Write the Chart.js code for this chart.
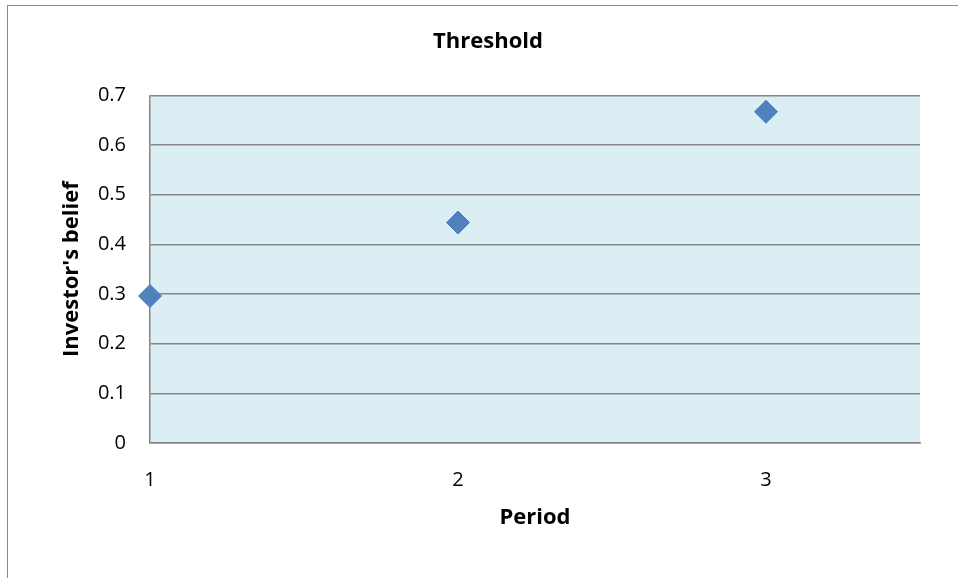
<!DOCTYPE html>
<html>
<head>
<meta charset="utf-8">
<script src="https://cdn.jsdelivr.net/npm/chart.js@4"></script>
<style>
    html, body { margin: 0; padding: 0; background: #fff; overflow: hidden; }
    .frame {
        position: absolute; left: 7px; top: 5px; width: 1200px; height: 1200px;
        border-left: 1px solid #888; border-top: 1px solid #888;
    }
    /* a bit wider than the window so the title centres where the original does */
    .wrap { position: absolute; left: 0; top: 0; width: 976px; height: 578px; }
</style>
</head>
<body>
<div class="frame"></div>
<div class="wrap"><canvas id="thresholdChart"></canvas></div>
<script>
// Chart data
const periods = [1, 2, 3];
const beliefs = [0.296, 0.444, 0.667];
const yMin = 0, yMax = 0.7, yStep = 0.1;
const xMin = 1, xMax = 3.5;

const FONT = '"Open Sans", "Liberation Sans", sans-serif';

// fill the plot area light blue
const plotBackground = {
    id: 'plotBackground',
    beforeDraw(chart) {
        const { ctx, chartArea: a } = chart;
        ctx.save();
        ctx.fillStyle = '#dbeef3';
        ctx.fillRect(a.left, a.top, a.right - a.left, a.bottom - a.top);
        ctx.restore();
    }
};

document.addEventListener('DOMContentLoaded', () => {
    const ctx = document.getElementById('thresholdChart');
    new Chart(ctx, {
        type: 'scatter',
        data: {
            datasets: [{
                label: 'Threshold',
                data: periods.map((p, i) => ({ x: p, y: beliefs[i] })),
                pointStyle: 'rectRot',
                pointRadius: 11.5,
                pointHoverRadius: 11.5,
                backgroundColor: '#4f81bd',
                borderColor: '#4a7ebb',
                borderWidth: 1,
                clip: false
            }]
        },
        options: {
            responsive: true,
            maintainAspectRatio: false,
            animation: false,
            layout: { padding: 0 },
            plugins: {
                legend: { display: false },
                tooltip: { enabled: false },
                title: {
                    display: true,
                    text: 'Threshold',
                    color: '#000',
                    font: { family: FONT, size: 22, weight: 'bold', lineHeight: 1.2 },
                    padding: { top: 29, bottom: 40 }
                }
            },
            scales: {
                x: {
                    type: 'linear',
                    min: xMin,
                    max: xMax,
                    grid: { display: false, drawTicks: false },
                    border: { display: true, color: '#868686', width: 1.5 },
                    afterBuildTicks: (scale) => {
                        scale.ticks = scale.ticks.filter(t => Number.isInteger(t.value));
                    },
                    afterFit: (scale) => { scale.height = 135; },
                    ticks: {
                        stepSize: 1,
                        color: '#000',
                        padding: 25,
                        font: { family: FONT, size: 20 }
                    },
                    title: {
                        display: true,
                        text: 'Period',
                        color: '#000',
                        font: { family: FONT, size: 22, weight: 'bold', lineHeight: 1.2 },
                        padding: { top: 0, bottom: 47 }
                    }
                },
                y: {
                    min: yMin,
                    max: yMax,
                    grid: { color: '#868686', lineWidth: 1.5, drawTicks: false },
                    border: { display: true, color: '#868686', width: 1.5 },
                    afterFit: (scale) => { scale.width = 150; },
                    ticks: {
                        stepSize: yStep,
                        color: '#000',
                        padding: 24,
                        font: { family: FONT, size: 20 },
                        callback: (v) => String(Math.round(v * 10) / 10)
                    },
                    title: {
                        display: true,
                        text: "Investor's belief",
                        color: '#000',
                        font: { family: FONT, size: 22, weight: 'bold', lineHeight: 1.2 },
                        padding: { top: 59, bottom: 0 }
                    }
                },
                // empty right-hand spacer that keeps the plot off the right edge
                spacer: {
                    position: 'right',
                    grid: { display: false, drawTicks: false },
                    border: { display: false },
                    ticks: { display: false },
                    afterFit: (scale) => { scale.width = 56; }
                }
            }
        },
        plugins: [plotBackground]
    });
});
</script>
</body>
</html>
